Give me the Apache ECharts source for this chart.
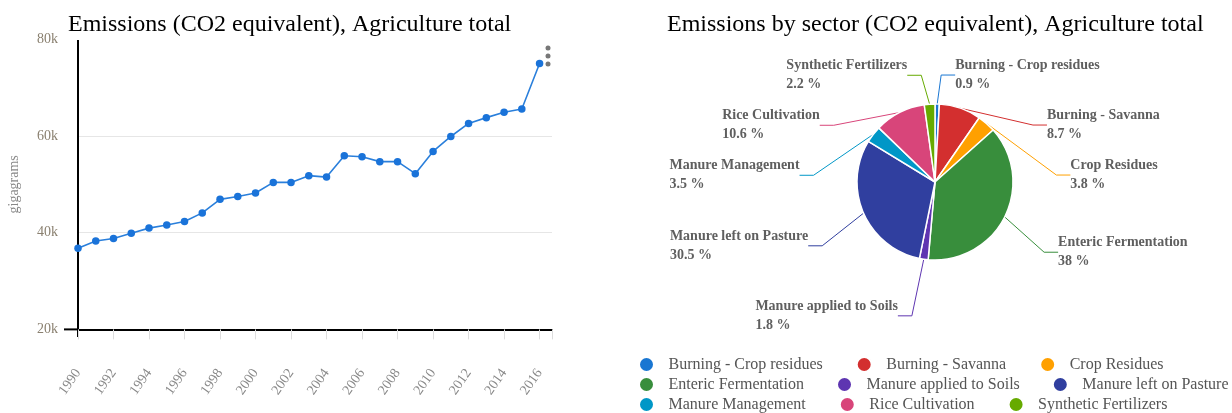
<!DOCTYPE html>
<html>
<head>
<meta charset="utf-8">
<script src="https://cdn.jsdelivr.net/npm/echarts@6/dist/echarts.min.js"></script>
<style>
  html, body { margin: 0; padding: 0; background: #fff; }
  #chart { width: 1232px; height: 413px; }
</style>
</head>
<body>
<div id="chart"></div>
<script>
// ── Data ────────────────────────────────────────────────────────────────────
const years = [1990, 1991, 1992, 1993, 1994, 1995, 1996, 1997, 1998, 1999,
  2000, 2001, 2002, 2003, 2004, 2005, 2006, 2007, 2008, 2009,
  2010, 2011, 2012, 2013, 2014, 2015, 2016];
const emissions = [36800, 38300, 38800, 39900, 40950, 41600, 42300, 44100, 46900, 47500,
  48200, 50400, 50400, 51800, 51500, 55900, 55700, 54700, 54700, 52200,
  56800, 59900, 62600, 63800, 64900, 65600, 75000];

const sectors = ["Burning - Crop residues", "Burning - Savanna", "Crop Residues",
  "Enteric Fermentation", "Manure applied to Soils", "Manure left on Pasture",
  "Manure Management", "Rice Cultivation", "Synthetic Fertilizers"];
const sectorShare = [0.9, 8.7, 3.8, 38, 1.8, 30.5, 3.5, 10.6, 2.2];
const sectorColors = ["#1976d2", "#d32f2f", "#ffa000", "#388e3c", "#5e35b1",
  "#303f9f", "#0097c7", "#d8457a", "#66aa00"];

// label nudges (dx, dy) away from ECharts' default pie label spots
const labelShift = [[-2, 5], [12, 15], [14, 25], [4, 20], [-2, 23], [-10, 19], [-14, 25], [-15, 15], [-1, 5]];

const SERIF = "Liberation Serif";

(function () {
  const chart = echarts.init(document.getElementById("chart"));

  const lineData = years.map((y, i) => [y, emissions[i]]);
  const pieData = sectors.map((name, i) => ({
    name: name,
    value: sectorShare[i],
    itemStyle: { color: sectorColors[i] },
  }));

  // one legend per row, three items each
  function legendRow(names, top, gap) {
    return {
      data: names,
      left: 633,
      top: top,
      width: 620,
      orient: "horizontal",
      icon: "circle",
      itemWidth: 34,
      itemHeight: 15,
      itemGap: gap,
      textStyle: { fontFamily: SERIF, fontSize: 16, color: "#555" },
    };
  }

  const labelFont = { fontFamily: SERIF, fontWeight: "bold", fontSize: 14, color: "#5f5f5f", lineHeight: 19 };

  const option = {
    animation: false,
    title: [
      {
        text: "Emissions (CO2 equivalent), Agriculture total",
        left: 66,
        top: 9,
        padding: [4, 45, 3, 2],
        backgroundColor: "#fff",
        textStyle: { fontFamily: SERIF, fontSize: 24, fontWeight: "normal", color: "#000" },
      },
      {
        text: "Emissions by sector (CO2 equivalent), Agriculture total",
        left: 665,
        top: 9,
        padding: [4, 2, 4, 2],
        textStyle: { fontFamily: SERIF, fontSize: 24, fontWeight: "normal", color: "#000" },
      },
    ],
    legend: [
      legendRow(sectors.slice(0, 3), 351, 33),
      legendRow(sectors.slice(3, 6), 371, 32),
      legendRow(sectors.slice(6, 9), 391, 33),
    ],
    grid: { left: 78, right: 680, top: 39.3, bottom: 83.6 },
    xAxis: {
      type: "value",
      min: 1990,
      max: 2016.7,
      interval: 2,
      splitLine: { show: false },
      axisLine: { show: true, onZero: false, lineStyle: { color: "#000", width: 2 } },
      axisTick: { show: true, length: 10, lineStyle: { color: "#ddd" } },
      axisLabel: {
        rotate: 55,
        margin: 41,
        fontFamily: SERIF,
        fontSize: 14,
        color: "#888",
        formatter: (v) => (v % 1 === 0 ? String(v) : ""),
      },
    },
    yAxis: {
      type: "value",
      min: 20000,
      max: 80000,
      interval: 20000,
      name: "gigagrams",
      nameLocation: "middle",
      nameGap: 57,
      nameTextStyle: { fontFamily: SERIF, fontSize: 14, color: "#888" },
      axisLine: { show: true, lineStyle: { color: "#000", width: 2 } },
      axisTick: { show: false },
      splitLine: { lineStyle: { color: "#e6e6e6" } },
      axisLabel: {
        margin: 20,
        fontFamily: SERIF,
        fontSize: 14,
        color: "#8a8070",
        formatter: (v) => v / 1000 + "k",
      },
    },
    series: [
      {
        name: "Emissions",
        type: "line",
        data: lineData,
        symbol: "circle",
        symbolSize: 7.5,
        lineStyle: { color: "#2a7fdb", width: 1.6 },
        itemStyle: { color: "#1a73d9" },
      },
      {
        name: "Sectors",
        type: "pie",
        center: [935, 182],
        radius: 78,
        startAngle: 90,
        clockwise: true,
        data: pieData,
        itemStyle: { borderColor: "#fff", borderWidth: 1.5 },
        label: Object.assign({
          formatter: "{n|{b}}\n{p|{c} %}",
          rich: {
            n: Object.assign({ align: "left" }, labelFont),
            p: Object.assign({ align: "left" }, labelFont),
          },
        }, labelFont),
        labelLine: { length: 34, length2: 14, lineStyle: { width: 1 } },
        labelLayout: function (p) {
          const s = labelShift[p.dataIndex];
          const r = p.labelRect;
          const onLeft = p.labelLinePoints && p.labelLinePoints[2][0] < p.labelLinePoints[0][0];
          return {
            x: (onLeft ? r.x + r.width : r.x) + s[0],
            y: r.y + r.height / 2 + s[1],
            align: onLeft ? "right" : "left",
            verticalAlign: "middle",
          };
        },
      },
    ],
    graphic: [
      { type: "line", shape: { x1: 64, y1: 329.4, x2: 78, y2: 329.4 }, style: { stroke: "#000", lineWidth: 2 } },
      { type: "line", shape: { x1: 78, y1: 329.4, x2: 78, y2: 337 }, style: { stroke: "#000", lineWidth: 2 } },
      { type: "circle", shape: { cx: 548, cy: 48, r: 2.5 }, style: { fill: "#777" } },
      { type: "circle", shape: { cx: 548, cy: 56, r: 2.5 }, style: { fill: "#777" } },
      { type: "circle", shape: { cx: 548, cy: 64, r: 2.5 }, style: { fill: "#777" } },
    ],
  };

  chart.setOption(option);
  window.addEventListener("resize", () => chart.resize());
})();
</script>
</body>
</html>
